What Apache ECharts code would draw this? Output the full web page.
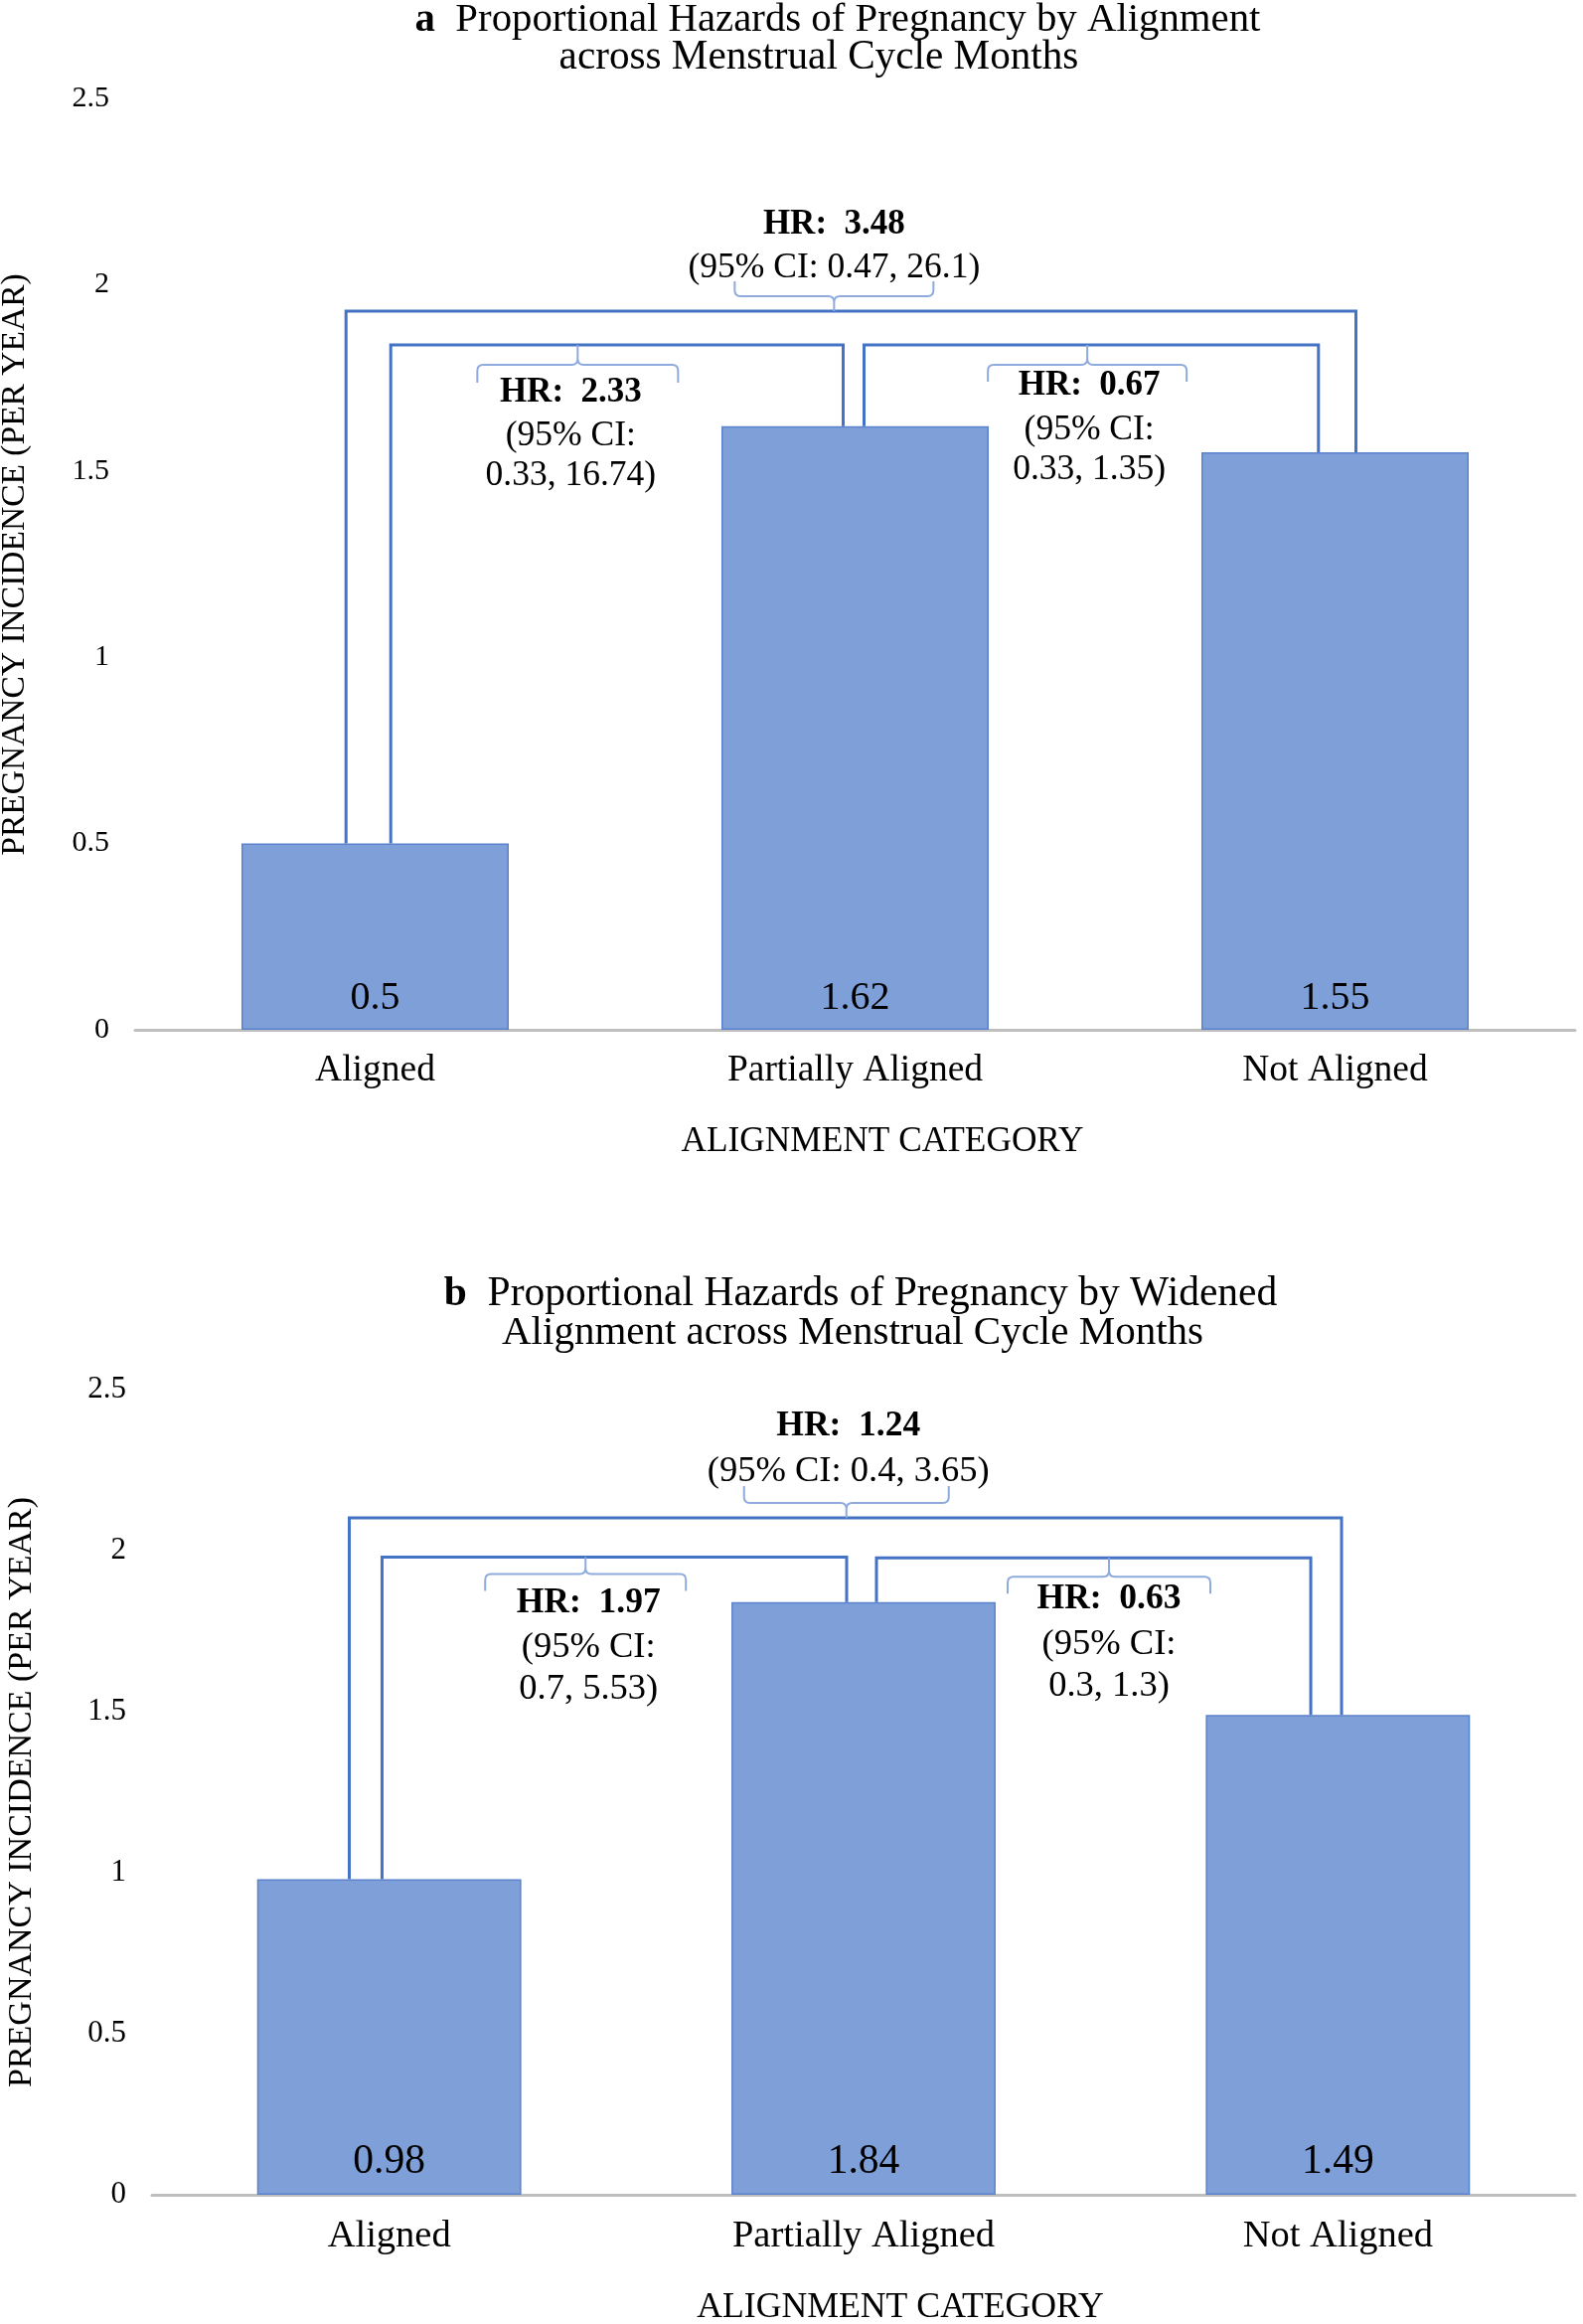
<!DOCTYPE html>
<html><head><meta charset="utf-8">
<script src="https://cdn.jsdelivr.net/npm/echarts@6/dist/echarts.min.js"></script>
<style>html,body{margin:0;padding:0;background:#fff}#main{width:1593px;height:2338px}</style>
</head><body><div id="main"></div>
<script>
// ---------- data ----------
const categories = ['Aligned', 'Partially Aligned', 'Not Aligned'];
const incidenceA = [0.5, 1.62, 1.55];
const incidenceB = [0.98, 1.84, 1.49];
const yMin = 0, yMax = 2.5, yStep = 0.5;
const pairs = [[0, 1], [1, 2], [0, 2]];
const hrA = ['2.33', '0.67', '3.48'];
const ciA = ['0.33, 16.74', '0.33, 1.35', '0.47, 26.1'];
const hrB = ['1.97', '0.63', '1.24'];
const ciB = ['0.7, 5.53', '0.3, 1.3', '0.4, 3.65'];
const titleA = ['a', 'Proportional Hazards of Pregnancy by Alignment', 'across Menstrual Cycle Months'];
const titleB = ['b', 'Proportional Hazards of Pregnancy by Widened', 'Alignment across Menstrual Cycle Months'];
const xName = 'ALIGNMENT CATEGORY';
const yName = 'PREGNANCY INCIDENCE (PER YEAR)';

// ---------- layout / style ----------
const FONT = '"Liberation Serif", "Times New Roman", serif';
const BAR_COLOR = '#7F9FD8';
const LINE_COLOR = '#4472C4';
const BRACE_COLOR = '#8FAADC';

const layoutA = [
  {level: 1.838, dx0: 15.7, dx1: -12, braceDx: -39.5, half: 101, dir: 1, tick: 20, end: 18, textDx: -7, textDy: [48, 92, 132]},
  {level: 1.838, dx0: 9, dx1: -16.7, braceDx: -4, half: 100, dir: 1, tick: 20, end: 17, textDx: 2, textDy: [41, 86, 126]},
  {level: 1.929, dx0: -29.3, dx1: 21, braceDx: -17, half: 100, dir: -1, tick: 15, end: 15, textDx: 0, textDy: [-87, -43]}
];
const layoutB = [
  {level: 1.98, dx0: -7.2, dx1: -17, braceDx: -29, half: 101, dir: 1, tick: 17, end: 17, textDx: 3, textDy: [46, 91, 133]},
  {level: 1.978, dx0: 13, dx1: -27.3, braceDx: 15.5, half: 102, dir: 1, tick: 19, end: 17, textDx: 0, textDy: [42, 87, 129]},
  {level: 2.102, dx0: -40.2, dx1: 3.7, braceDx: 1, half: 103, dir: -1, tick: 15, end: 17, textDx: 2, textDy: [-92, -47]}
];

function bracketSeries(idx, values, hr, ci, layout, hrSize, ciSize) {
  return {
    type: 'custom', xAxisIndex: idx, yAxisIndex: idx, z: 5, silent: true, clip: false,
    data: pairs.map((p, i) => [p[0], layout[i].level]),
    encode: {x: 0, y: 1},
    renderItem: function (params, api) {
      const i = params.dataIndex, L = layout[i];
      const a = pairs[i][0], b = pairs[i][1];
      const pA = api.coord([a, values[a]]);
      const pB = api.coord([b, values[b]]);
      const y = api.coord([a, L.level])[1];
      const x0 = pA[0] + L.dx0, x1 = pB[0] + L.dx1;
      const xc = (x0 + x1) / 2 + L.braceDx;
      const xl = xc - L.half, xr = xc + L.half;
      const s = L.dir, r = 6;
      const yb = y + s * L.tick, ye = yb + s * L.end;
      const d = 'M' + xl + ',' + ye + ' L' + xl + ',' + (yb + s * r) +
        ' Q' + xl + ',' + yb + ' ' + (xl + r) + ',' + yb +
        ' L' + (xc - r) + ',' + yb +
        ' Q' + xc + ',' + yb + ' ' + xc + ',' + (yb - s * r) +
        ' L' + xc + ',' + y +
        ' M' + xc + ',' + (yb - s * r) +
        ' Q' + xc + ',' + yb + ' ' + (xc + r) + ',' + yb +
        ' L' + (xr - r) + ',' + yb +
        ' Q' + xr + ',' + yb + ' ' + xr + ',' + (yb + s * r) +
        ' L' + xr + ',' + ye;
      const lines = L.textDy.length === 3
        ? ['HR:  ' + hr[i], '(95% CI:', ci[i] + ')']
        : ['HR:  ' + hr[i], '(95% CI: ' + ci[i] + ')'];
      const texts = lines.map((t, k) => ({
        type: 'text', x: xc + L.textDx, y: y + L.textDy[k],
        style: {
          text: t, fill: '#000', fontFamily: FONT,
          fontSize: k === 0 ? hrSize : ciSize, fontWeight: k === 0 ? 'bold' : 'normal',
          align: 'center', verticalAlign: 'middle'
        }
      }));
      return {
        type: 'group',
        children: [
          {type: 'polyline', shape: {points: [[x0, pA[1]], [x0, y], [x1, y], [x1, pB[1]]]},
            style: {stroke: LINE_COLOR, lineWidth: 3, fill: null}},
          {type: 'path', shape: {pathData: d}, style: {stroke: BRACE_COLOR, lineWidth: 2, fill: null}}
        ].concat(texts)
      };
    }
  };
}

function barSeries(idx, values, labelSize) {
  return {
    type: 'bar', xAxisIndex: idx, yAxisIndex: idx, data: values, barCategoryGap: '44.3%',
    itemStyle: {color: BAR_COLOR, borderColor: '#5B82CC', borderWidth: 1.5},
    label: {show: true, position: 'insideBottom', distance: 12, color: '#000', fontFamily: FONT, fontSize: labelSize}
  };
}

function gtext(x, y, text, size, extra) {
  return {type: 'text', x: x, y: y, style: Object.assign({
    text: text, fill: '#000', fontFamily: FONT, fontSize: size, align: 'center', verticalAlign: 'middle'
  }, extra || {})};
}
function titleText(x, y, parts, size) {
  return {type: 'text', x: x, y: y, style: {
    text: '{b|' + parts[0] + '}  ' + parts[1], fill: '#000', fontFamily: FONT, fontSize: size,
    align: 'center', verticalAlign: 'middle',
    rich: {b: {fontWeight: 'bold', fontFamily: FONT, fontSize: size, fill: '#000'}}
  }};
}

const chart = echarts.init(document.getElementById('main'), null, {renderer: 'canvas'});
const option = {
  animation: false,
  backgroundColor: '#fff',
  grid: [
    {left: 136, right: 8, top: 99, height: 937, outerBoundsMode: 'none'},
    {left: 153, right: 8, top: 1398, height: 810, outerBoundsMode: 'none'}
  ],
  xAxis: [0, 1].map(i => ({
    gridIndex: i, type: 'category', data: categories,
    axisLine: {lineStyle: {color: '#BFBFBF', width: 3}},
    axisTick: {show: false},
    axisLabel: {color: '#000', fontFamily: FONT, fontSize: [37.5, 38.5][i], margin: 22}
  })),
  yAxis: [0, 1].map(i => ({
    gridIndex: i, type: 'value', min: yMin, max: yMax, interval: yStep,
    axisLine: {show: false}, axisTick: {show: false}, splitLine: {show: false},
    axisLabel: {color: '#000', fontFamily: FONT, fontSize: [30, 31][i], margin: 26}
  })),
  series: [
    barSeries(0, incidenceA, 40),
    barSeries(1, incidenceB, 41.5),
    bracketSeries(0, incidenceA, hrA, ciA, layoutA, 35, 35.5),
    bracketSeries(1, incidenceB, hrB, ciB, layoutB, 35.5, 36.5)
  ],
  graphic: [
    titleText(843, 20, titleA, 40.8),
    gtext(824, 58, titleA[2], 41.2),
    titleText(866, 1302, titleB, 41.5),
    gtext(858, 1341, titleB[2], 41),
    gtext(888, 1149, xName, 35.3),
    gtext(906, 2322, xName, 35.7),
    Object.assign(gtext(15, 568, yName, 33.5), {rotation: Math.PI / 2}),
    Object.assign(gtext(22, 1803, yName, 34), {rotation: Math.PI / 2})
  ]
};
chart.setOption(option);
</script></body></html>
